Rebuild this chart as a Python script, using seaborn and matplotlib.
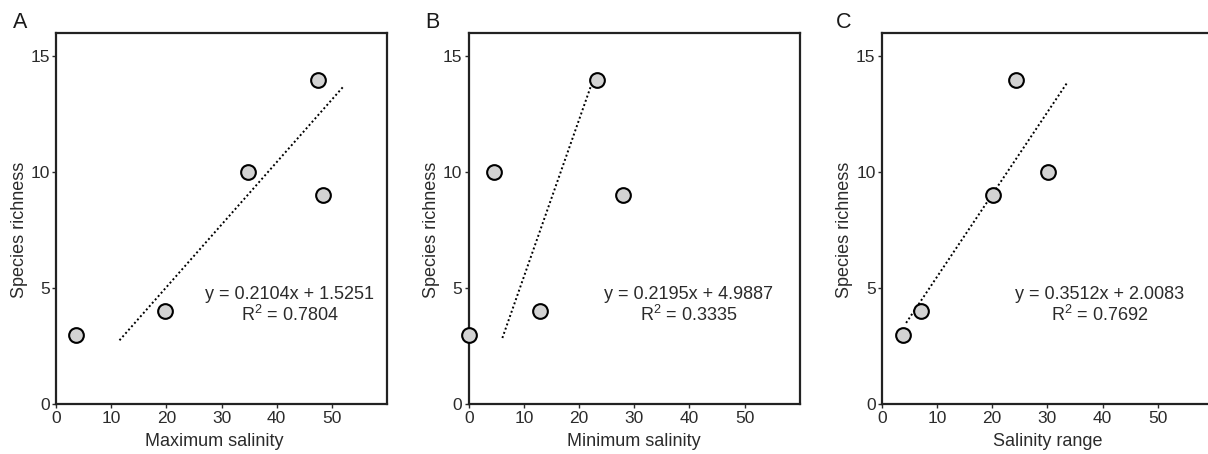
import numpy as np
import pandas as pd
import matplotlib
matplotlib.use("Agg")
import matplotlib.pyplot as plt
import seaborn as sns

# species richness is the same five sites in every panel
max_sal = [3.7, 19.7, 34.8, 47.5, 48.4]
max_rich = [3, 4, 10, 14, 9]
min_sal = [0.0, 4.6, 12.9, 23.2, 28.0]
min_rich = [3, 10, 4, 14, 9]
range_sal = [3.9, 7.1, 20.2, 24.4, 30.1]
range_rich = [3, 4, 9, 14, 10]

# trend line ends as drawn in the figure
trend_max_x = [11.5, 52.1]
trend_max_y = [2.75, 13.7]
trend_min_x = [6.1, 22.2]
trend_min_y = [2.85, 13.75]
trend_range_x = [4.4, 33.7]
trend_range_y = [3.5, 13.9]

equations = ["y = 0.2104x + 1.5251", "y = 0.2195x + 4.9887", "y = 0.3512x + 2.0083"]
r2_values = ["0.7804", "0.3335", "0.7692"]
x_labels = ["Maximum salinity", "Minimum salinity", "Salinity range"]
panel_letters = ["A", "B", "C"]
eq_x = [42.3, 39.8, 39.4]
xlabel_pos = [0.478, 0.5, 0.5]

sns.set_style("ticks")
plt.rcParams["font.family"] = ["Liberation Sans", "DejaVu Sans"]
plt.rcParams["mathtext.default"] = "regular"

fig = plt.figure(figsize=(12.08, 4.54), dpi=100)
lefts = [0.0464, 0.388, 0.730]
W, H, B = 0.274, 0.817, 0.110
txt = "#2b2b2b"

panels = [
    (max_sal, max_rich, trend_max_x, trend_max_y),
    (min_sal, min_rich, trend_min_x, trend_min_y),
    (range_sal, range_rich, trend_range_x, trend_range_y),
]

for i, (xs, ys, tx, ty) in enumerate(panels):
    ax = fig.add_axes([lefts[i], B, W, H])
    df = pd.DataFrame({"x": xs, "y": ys})
    sns.lineplot(x=tx, y=ty, ax=ax, color="black", linestyle=(0, (1, 1.3)), linewidth=1.4)
    sns.scatterplot(data=df, x="x", y="y", ax=ax, s=112, color="#d3d3d3",
                    edgecolor="black", linewidth=1.5, zorder=3, clip_on=False)
    ax.set_xlim(0, 60)
    ax.set_ylim(0, 16)
    ax.set_xticks([0, 10, 20, 30, 40, 50])
    ax.set_yticks([0, 5, 10, 15])
    ax.tick_params(labelsize=12.5, colors=txt, length=3, width=1, pad=1.5)
    ax.tick_params(axis="x", pad=2)
    for sp in ax.spines.values():
        sp.set_linewidth(1.6)
        sp.set_color("#222222")
    ax.set_xlabel(x_labels[i], fontsize=13, color=txt)
    ax.set_ylabel("Species richness", fontsize=13, color=txt)
    ax.xaxis.set_label_coords(xlabel_pos[i], -0.078)
    ax.yaxis.set_label_coords(-0.086, 0.47)
    ax.text(eq_x[i], 4.72, equations[i], ha="center", va="center", fontsize=13, color=txt)
    ax.text(eq_x[i], 3.86, "R$^2$ = " + r2_values[i], ha="center", va="center", fontsize=13, color=txt)

letter_x = [0.011, 0.352, 0.692]
for i, letter in enumerate(panel_letters):
    fig.text(letter_x[i], 0.95, letter, fontsize=15.5, ha="left", va="center", color="#1a1a1a")

fig.savefig("out.png", dpi=100, facecolor="white")
